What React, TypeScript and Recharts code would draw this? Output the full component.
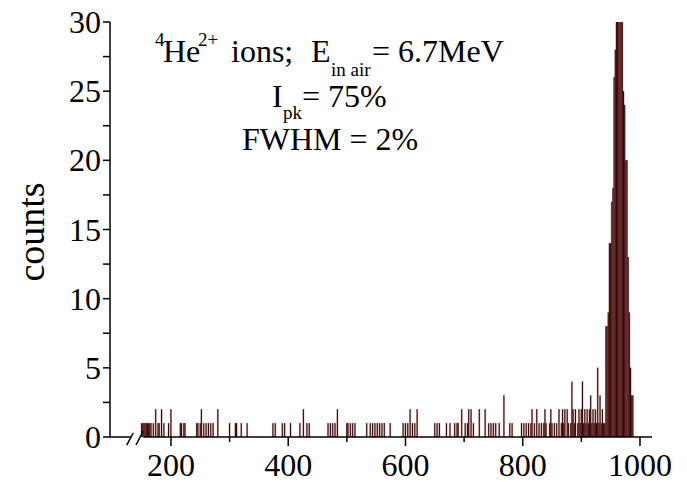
import { BarChart, Bar, XAxis, YAxis, ReferenceLine } from "recharts";

const FONT = "'Liberation Serif', 'Times New Roman', Times, serif";

// channel positions (2-unit bins), grouped by count
const singleBins = [
  150, 152, 154, 156, 158, 160, 162, 164, 166, 170, 178, 180, 188, 196, 216, 218, 222, 224,
  244, 246, 250, 256, 260, 264, 268, 272, 300, 310, 312, 320, 330, 374, 378, 390, 394, 404,
  420, 432, 436, 468, 472, 476, 480, 500, 502, 506, 510, 514, 534, 540, 544, 548, 552, 556,
  560, 564, 574, 596, 600, 604, 612, 616, 650, 654, 658, 670, 676, 684, 688, 690, 702, 706,
  716, 742, 746, 750, 754, 760, 778, 782, 798, 802, 806, 810, 814, 820, 828, 832, 836, 840,
  846, 850, 854, 858, 866, 870, 878, 882, 888, 894, 898, 904, 908, 912, 918, 922, 926, 930,
  934, 938,
];
const doubleBins = [
  174, 184, 200, 252, 280, 426, 484, 608, 620, 696, 708, 712, 726, 736, 816, 824, 838, 848,
  862, 868, 872, 876, 886, 890, 896, 900, 906, 910, 914, 920, 924, 936,
];
const tripleBins = [768, 916, 932];
const quadBins = [884, 902];
const fiveBins = [928];

const peakBins = [940, 942, 944, 946, 948, 950, 952, 954, 956, 958, 960, 962, 964, 966, 968, 970, 972, 974, 976, 978, 980, 982, 984, 986, 988];
const peakCounts = [1, 8, 8, 9, 14, 14, 17, 18, 26, 28, 31, 34, 36, 35, 33, 31, 25, 24, 20, 20, 13, 9, 5, 3, 3];

const xTicks = [200, 300, 400, 500, 600, 700, 800, 900, 1000];
const yTicks = [0, 2.5, 5, 7.5, 10, 12.5, 15, 17.5, 20, 22.5, 25, 27.5, 30];

const buildData = () => {
  const m = new Map<number, number>();
  singleBins.forEach((c) => m.set(c, 1));
  doubleBins.forEach((c) => m.set(c, 2));
  tripleBins.forEach((c) => m.set(c, 3));
  quadBins.forEach((c) => m.set(c, 4));
  fiveBins.forEach((c) => m.set(c, 5));
  peakBins.forEach((c, i) => m.set(c, peakCounts[i]));
  return [...m.entries()].sort((a, b) => a[0] - b[0]).map(([channel, counts]) => ({ channel, counts }));
};

const data = buildData();

const textStyle = { fontFamily: FONT };

const XTick = ({ x, y, payload }: any) => {
  const major = payload.value % 200 === 0;
  return (
    <g>
      <line x1={x} x2={x} y1={y} y2={y + (major ? 9 : 5)} stroke="#000" strokeWidth={1.5} />
      {major && (
        <text x={x} y={y + 39} textAnchor="middle" fontSize={32} style={textStyle} fill="#000">
          {payload.value}
        </text>
      )}
    </g>
  );
};

const YTick = ({ x, y, payload }: any) => {
  const major = payload.value % 5 === 0;
  return (
    <g>
      <line x1={x - 7} x2={x} y1={y} y2={y} stroke="#000" strokeWidth={1.5} />
      {major && (
        <text x={x - 9} y={y + 11} textAnchor="end" fontSize={32} style={textStyle} fill="#000">
          {payload.value}
        </text>
      )}
    </g>
  );
};

const axisLine = { stroke: "#000", strokeWidth: 1.5 };

export default function App() {
  return (
    <div style={{ position: "absolute", left: 0, top: 0, width: 687, height: 482, background: "#fff" }}>
      <BarChart width={687} height={482} data={data} margin={{ top: 22, right: 35, bottom: 0, left: 50 }}>
        <XAxis
          dataKey="channel"
          type="number"
          domain={[96, 1020.5]}
          allowDataOverflow
          ticks={xTicks}
          interval={0}
          height={45}
          tickSize={0}
          tickMargin={0}
          axisLine={false}
          tickLine={false}
          tick={<XTick />}
        />
        <YAxis
          type="number"
          domain={[0, 30]}
          allowDataOverflow
          ticks={yTicks}
          interval={0}
          width={60}
          tickSize={0}
          tickMargin={0}
          axisLine={axisLine}
          tickLine={false}
          tick={<YTick />}
        />
        <Bar dataKey="counts" barSize={1.4} fill="#2c0000" stroke="#5e1010" strokeWidth={0.3} isAnimationActive={false} />
        {/* broken x axis */}
        <ReferenceLine segment={[{ x: 96, y: 0 }, { x: 133, y: 0 }]} stroke="#000" strokeWidth={1.5} ifOverflow="visible" />
        <ReferenceLine segment={[{ x: 152.8, y: 0 }, { x: 1020.5, y: 0 }]} stroke="#000" strokeWidth={1.5} ifOverflow="visible" />
        <ReferenceLine segment={[{ x: 124.5, y: -0.58 }, { x: 135.7, y: 0.29 }]} stroke="#000" strokeWidth={1.5} ifOverflow="visible" />
        <ReferenceLine segment={[{ x: 140.3, y: -0.58 }, { x: 152.8, y: 0.43 }]} stroke="#000" strokeWidth={1.5} ifOverflow="visible" />
      </BarChart>
      <svg width={687} height={482} style={{ position: "absolute", left: 0, top: 0, pointerEvents: "none" }}>
        <g style={textStyle} fill="#000">
          <text x={31} y={232} fontSize={38} textAnchor="middle" transform="rotate(-90 31 232)" dominantBaseline="central">
            counts
          </text>
          <text x={155} y={46} fontSize={19}>4</text>
          <text x={163} y={62} fontSize={32}>He</text>
          <text x={198} y={46} fontSize={19}>2+</text>
          <text x={231} y={62} fontSize={32}>ions;</text>
          <text x={311} y={62} fontSize={32}>E</text>
          <text x={331} y={76} fontSize={19}>in air</text>
          <text x={372} y={62} fontSize={32}>= 6.7MeV</text>
          <text x={272} y={107} fontSize={32}>I</text>
          <text x={283} y={119} fontSize={19}>pk</text>
          <text x={302} y={107} fontSize={32}>= 75%</text>
          <text x={242} y={150} fontSize={32}>FWHM = 2%</text>
        </g>
      </svg>
    </div>
  );
}
